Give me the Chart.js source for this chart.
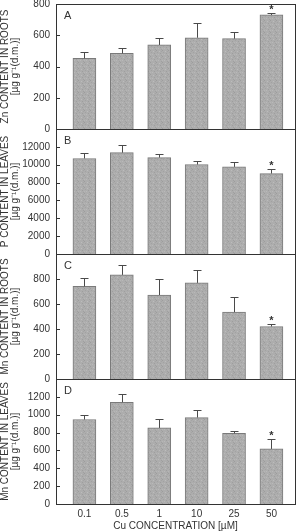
<!DOCTYPE html>
<html>
<head>
<meta charset="utf-8">
<script src="https://cdn.jsdelivr.net/npm/chart.js@4"></script>
<style>
  html, body { margin: 0; padding: 0; background: #fff; }
  #wrap { position: relative; width: 298px; height: 532px; overflow: hidden; }
  canvas { position: absolute; left: 0; }
</style>
</head>
<body>
<div id="wrap">
  <canvas id="cA"></canvas>
  <canvas id="cB"></canvas>
  <canvas id="cC"></canvas>
  <canvas id="cD"></canvas>
</div>
<script>
// Cu concentrations (µM)
const categories = ['0.1', '0.5', '1', '10', '25', '50'];

// A: Zn in roots
const znRoots = [452, 484, 538, 584, 578, 730];
const znRootsErr = [39, 36, 46, 92, 43, 14];
// B: P in leaves
const pLeaves = [10700, 11350, 10800, 10020, 9760, 9010];
const pLeavesErr = [600, 900, 450, 400, 500, 560];
// C: Mn in roots
const mnRoots = [741, 833, 672, 769, 536, 420];
const mnRootsErr = [68, 75, 129, 107, 120, 22];
// D: Mn in leaves
const mnLeaves = [946, 1140, 852, 968, 792, 617];
const mnLeavesErr = [56, 97, 101, 82, 22, 112];

// significant difference marks (*)
const signif = [false, false, false, false, false, true];

const yMaxA = 800, yStepA = 200;
const yMaxB = 14000, yStepB = 2000;
const yMaxC = 1000, yStepC = 200;
const yMaxD = 1400, yStepD = 200;

const FONT = '"Liberation Sans", Arial, sans-serif';
const TXT = '#333';

// stippled gray fill for the bars
function makePattern() {
  const c = document.createElement('canvas');
  c.width = 6; c.height = 6;
  const g = c.getContext('2d');
  g.fillStyle = '#adadad';
  g.fillRect(0, 0, 6, 6);
  const dots = [[0,0,'#9c9c9c'],[3,1,'#bcbcbc'],[1,2,'#a2a2a2'],[4,3,'#9e9e9e'],
                [2,4,'#b9b9b9'],[5,5,'#a0a0a0'],[0,4,'#b6b6b6'],[5,1,'#a4a4a4']];
  dots.forEach(d => { g.fillStyle = d[2]; g.fillRect(d[0], d[1], 1, 1); });
  return g.createPattern(c, 'repeat');
}
const barFill = makePattern();

const framePlugin = {
  id: 'frame',
  afterDatasetsDraw(chart, args, opts) {
    const ctx = chart.ctx;
    const a = chart.chartArea;
    const xs = chart.scales.x, ys = chart.scales.y;
    const vals = opts.values, errs = opts.errors;
    ctx.save();
    // error bars
    ctx.strokeStyle = '#4a4a4a';
    ctx.lineWidth = 1;
    vals.forEach((v, i) => {
      const x = Math.round(xs.getPixelForValue(i + 1)) + 0.5;
      const y0 = ys.getPixelForValue(v);
      const y1 = Math.round(ys.getPixelForValue(v + errs[i])) + 0.5;
      ctx.beginPath();
      ctx.moveTo(x, y0);
      ctx.lineTo(x, y1);
      ctx.moveTo(x - 4, y1);
      ctx.lineTo(x + 4, y1);
      ctx.stroke();
      if (signif[i]) {
        ctx.fillStyle = TXT;
        ctx.font = 'bold 11px ' + FONT;
        ctx.textAlign = 'center';
        ctx.textBaseline = 'alphabetic';
        ctx.fillText('*', x, y1 - 1);
      }
    });
    // frame
    ctx.strokeStyle = '#333';
    ctx.strokeRect(Math.round(a.left) + 0.5, Math.round(a.top) + 0.5,
      Math.round(a.right - a.left), Math.round(a.bottom - a.top));
    // inward ticks
    ys.ticks.forEach(t => {
      const y = Math.round(ys.getPixelForValue(t.value)) + 0.5;
      ctx.beginPath();
      ctx.moveTo(a.left, y);
      ctx.lineTo(a.left + 4, y);
      ctx.stroke();
    });
    // panel letter
    ctx.fillStyle = TXT;
    ctx.font = '11px ' + FONT;
    ctx.textAlign = 'left';
    ctx.textBaseline = 'middle';
    ctx.fillText(opts.letter, a.left + 8, a.top + 12);
    ctx.restore();
  }
};

function makePanel(id, top, values, errors, yMax, yStep, title, letter, last) {
  const canvas = document.getElementById(id);
  const h = last ? 125 + 8 + 28 : 125 + 16;
  canvas.width = 298;
  canvas.height = h;
  canvas.style.top = (top - 8) + 'px';
  canvas.style.width = '298px';
  canvas.style.height = h + 'px';

  return new Chart(canvas.getContext('2d'), {
    type: 'bar',
    data: {
      datasets: [{
        data: values.map((v, i) => ({ x: i + 1, y: v })),
        backgroundColor: barFill,
        borderColor: '#7a7a7a',
        borderWidth: 1,
        barThickness: 23
      }]
    },
    options: {
      responsive: false,
      animation: false,
      layout: { padding: { top: 8, bottom: last ? 0 : 8, left: 0, right: 3 } },
      plugins: {
        legend: { display: false },
        tooltip: { enabled: false },
        frame: { values: values, errors: errors, letter: letter }
      },
      scales: {
        x: {
          type: 'linear',
          offset: false,
          min: 0.24,
          max: 6.63,
          grid: { display: false, drawTicks: false },
          border: { display: false },
          afterBuildTicks: s => { s.ticks = categories.map((c, i) => ({ value: i + 1 })); },
          afterFit: s => {
            s.height = last ? 28 : 0;
            s.paddingLeft = 0; s.paddingRight = 0;
          },
          ticks: {
            display: last,
            autoSkip: false,
            maxRotation: 0,
            padding: 4,
            color: TXT,
            font: { family: FONT, size: 10 },
            callback: v => categories[v - 1]
          },
          title: {
            display: last,
            text: 'Cu CONCENTRATION [µM]',
            color: TXT,
            font: { family: FONT, size: 10 },
            padding: { top: 0, bottom: 0 }
          }
        },
        y: {
          min: 0,
          max: yMax,
          grid: { display: false, drawTicks: false },
          border: { display: false },
          afterFit: s => {
            s.width = 56;
            s.paddingTop = 0; s.paddingBottom = 0;
          },
          ticks: {
            stepSize: yStep,
            padding: 6,
            color: TXT,
            font: { family: FONT, size: 10 },
            callback: v => (letter !== 'A' && v === yMax) ? '' : v
          },
          title: {
            display: true,
            text: title,
            color: TXT,
            font: { family: FONT, size: 10, lineHeight: 1.0 },
            padding: 0
          }
        }
      }
    },
    plugins: [framePlugin]
  });
}

makePanel('cA', 4, znRoots, znRootsErr, yMaxA, yStepA,
  ['Zn CONTENT IN ROOTS', '[µg g\u207B\u00B9(d.m.)]'], 'A', false);
makePanel('cB', 129, pLeaves, pLeavesErr, yMaxB, yStepB,
  ['P CONTENT IN LEAVES', '[µg g\u207B\u00B9(d.m.)]'], 'B', false);
makePanel('cC', 254, mnRoots, mnRootsErr, yMaxC, yStepC,
  ['Mn CONTENT IN ROOTS', '[µg g\u207B\u00B9(d.m.)]'], 'C', false);
makePanel('cD', 379, mnLeaves, mnLeavesErr, yMaxD, yStepD,
  ['Mn CONTENT IN LEAVES', '[µg g\u207B\u00B9(d.m.)]'], 'D', true);
</script>
</body>
</html>
